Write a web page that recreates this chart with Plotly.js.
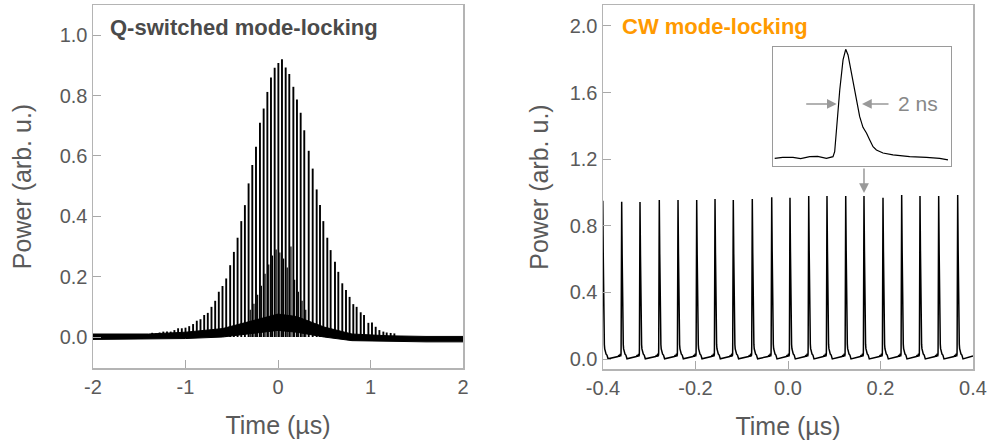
<!DOCTYPE html>
<html><head><meta charset="utf-8">
<script src="https://cdn.plot.ly/plotly-3.0.1.min.js"></script>
<style>html,body{margin:0;padding:0;background:#fff}#chart{width:990px;height:443px}</style>
</head><body><div id="chart"></div><script>
// ---- Q-switched mode-locking: individual mode-locked pulse peaks (µs, arb. u.)
const qsPulseT = [-1.36,-1.32,-1.28,-1.24,-1.20,-1.16,-1.12,-1.08,-1.04,-1.00,-0.96,-0.918,-0.878,-0.838,-0.798,-0.759,-0.719,-0.679,-0.64,-0.60,-0.56,-0.517,-0.477,-0.437,-0.397,-0.358,-0.318,-0.278,-0.238,-0.195,-0.155,-0.115,-0.076,-0.036,0.004,0.043,0.083,0.122,0.166,0.205,0.245,0.284,0.332,0.375,0.418,0.454,0.49,0.533,0.569,0.616,0.652,0.695,0.735,0.774,0.814,0.85,0.894,0.93,0.977,1.016,1.056,1.096,1.139,1.175,1.218,1.258];
const qsPulseV = [0.014,0.012,0.015,0.018,0.018,0.018,0.023,0.029,0.029,0.031,0.036,0.043,0.054,0.059,0.073,0.08,0.10,0.12,0.15,0.169,0.194,0.238,0.282,0.329,0.384,0.437,0.509,0.57,0.63,0.71,0.757,0.812,0.86,0.892,0.908,0.92,0.893,0.871,0.829,0.787,0.743,0.685,0.617,0.558,0.489,0.437,0.384,0.329,0.288,0.249,0.216,0.178,0.156,0.133,0.109,0.10,0.082,0.073,0.047,0.048,0.034,0.023,0.018,0.015,0.0135,0.012];
// weaker interleaved spikes near the envelope maximum
const qsSubT = [-0.30,-0.26,-0.22,-0.18,-0.14,-0.10,-0.06,-0.02,0.02,0.06,0.10,0.14,0.18,0.22,0.26,0.30];
const qsSubV = [0.09,0.11,0.14,0.17,0.21,0.24,0.27,0.29,0.28,0.26,0.23,0.30,0.19,0.15,0.12,0.09];
// thick noisy baseline band (lower / upper edge)
const qsBandT  = [-2.0,-1.4,-1.0,-0.6,-0.3,0.0,0.2,0.5,0.8,1.2,1.6,2.0];
const qsBandLo = [-0.008,-0.005,-0.005,0.0,0.012,0.022,0.016,0.0,-0.012,-0.015,-0.016,-0.016];
const qsBandHi = [0.010,0.010,0.016,0.028,0.052,0.076,0.068,0.033,0.010,0.004,0.002,0.002];

// ---- CW mode-locking: pulse train (µs) and peak power (arb. u.)
const cwPulseT = [-0.4005,-0.3596,-0.32,-0.2783,-0.2378,-0.1974,-0.1578,-0.1183,-0.0772,-0.0352,0.0043,0.0448,0.0843,0.1248,0.1643,0.2054,0.2458,0.2854,0.3258,0.3669];
const cwPulseV = [0.95,0.945,0.943,0.955,0.955,0.955,0.961,0.955,0.961,0.971,0.969,0.979,0.979,0.979,0.979,0.969,0.985,0.979,0.979,0.985];
const cwBase = 0.018;
// single-pulse profile (inset): time in ns, normalised power
const shapeT = [-7.98,-7.08,-5.92,-5.06,-4.04,-3.15,-2.17,-1.43,-1.24,-0.98,-0.67,-0.30,0,0.26,0.64,1.01,1.27,1.57,1.94,2.33,2.70,3.07,3.45,4.19,5.31,7.19,9.07,10.56,11.49];
const shapeV = [-0.003,0.005,0.006,-0.005,0.012,0.014,-0.003,0.012,0.058,0.322,0.626,0.902,1.0,0.948,0.782,0.656,0.534,0.38,0.282,0.23,0.166,0.104,0.074,0.046,0.028,0.012,0.006,-0.003,-0.018];

// axis tick labels
const qsXTicks = [-2,-1,0,1,2];
const qsYTicks = [0,0.2,0.4,0.6,0.8,1.0];
const cwXTicks = [-0.4,-0.2,0,0.2,0.4];
const cwYTicks = [0,0.4,0.8,1.2,1.6,2.0];

// build spike segments for the Q-switched trace
function spikes(ts, vs) {
  const x = [], y = [];
  ts.forEach((t, i) => { x.push(t, t, null); y.push(0, vs[i], null); });
  return {x, y};
}
const qsMain = spikes(qsPulseT, qsPulseV);
const qsSub = spikes(qsSubT, qsSubV);

// continuous CW trace composed of the measured pulse profile
const cwX = [], cwY = [];
cwPulseT.forEach((t0, i) => {
  const h = cwPulseV[i] - cwBase;
  shapeT.forEach((s, j) => { cwX.push(t0 + s / 1000); cwY.push(cwBase + h * shapeV[j]); });
});
cwX.push(0.4); cwY.push(cwBase);

const FONT = 'Liberation Sans, Arial, Helvetica, sans-serif';
const TXT = '#5a5a5a';
const traces = [
  {x: qsBandT, y: qsBandLo, mode: 'lines', line: {color: '#000', width: 1}, xaxis: 'x', yaxis: 'y', hoverinfo: 'skip'},
  {x: qsBandT, y: qsBandHi, mode: 'lines', fill: 'tonexty', fillcolor: '#000', line: {color: '#000', width: 1}, xaxis: 'x', yaxis: 'y', hoverinfo: 'skip'},
  {x: qsSub.x, y: qsSub.y, mode: 'lines', line: {color: '#000', width: 1.2}, connectgaps: false, xaxis: 'x', yaxis: 'y'},
  {x: qsMain.x, y: qsMain.y, mode: 'lines', line: {color: '#000', width: 1.9}, connectgaps: false, xaxis: 'x', yaxis: 'y'},
  {x: cwX, y: cwY, mode: 'lines', line: {color: '#000', width: 1.5}, xaxis: 'x2', yaxis: 'y2'},
  {x: shapeT, y: shapeV, mode: 'lines', line: {color: '#000', width: 1.2}, xaxis: 'x3', yaxis: 'y3'}
];

const axBase = {
  showline: true, mirror: true, linecolor: '#b4b4b4', linewidth: 1.5,
  ticks: 'inside', ticklen: 8, tickwidth: 1, tickcolor: '#a8a8a8',
  showgrid: false, zeroline: false,
  tickfont: {family: FONT, size: 20, color: TXT}
};
function ax(extra) { return Object.assign(JSON.parse(JSON.stringify(axBase)), extra); }
function ttl(text, standoff) { return {text: text, standoff: standoff, font: {family: FONT, size: 25, color: TXT}}; }

const layout = {
  width: 990, height: 443,
  margin: {l: 0, r: 0, t: 0, b: 0},
  paper_bgcolor: '#fff', plot_bgcolor: '#fff',
  showlegend: false,
  xaxis: ax({domain: [93/990, 463/990], range: [-2, 2], tickvals: qsXTicks, ticktext: ['-2','-1','0','1','2'], anchor: 'y',
    title: ttl('Time (µs)', 20)}),
  yaxis: ax({domain: [1 - 368/443, 1 - 5/443], range: [-0.1026, 1.1], tickvals: qsYTicks, ticktext: ['0.0','0.2','0.4','0.6','0.8','1.0'], anchor: 'x',
    title: ttl('Power (arb. u.)', 21)}),
  xaxis2: ax({domain: [603/990, 973/990], range: [-0.4, 0.4], tickvals: cwXTicks, ticktext: ['-0.4','-0.2','0.0','0.2','0.4'], anchor: 'y2',
    title: ttl('Time (µs)', 20)}),
  yaxis2: ax({domain: [1 - 369/443, 1 - 5/443], range: [-0.06, 2.126], tickvals: cwYTicks, ticktext: ['0.0','0.4','0.8','1.2','1.6','2.0'], anchor: 'x2',
    title: ttl('Power (arb. u.)', 14)}),
  xaxis3: {domain: [773/990, 951/990], range: [-8.17, 11.83], anchor: 'y3', showline: true, mirror: true, linecolor: '#9a9a9a', linewidth: 1,
    ticks: '', showticklabels: false, showgrid: false, zeroline: false},
  yaxis3: {domain: [1 - 165.7/443, 1 - 46.7/443], range: [-0.071, 1.024], anchor: 'x3', showline: true, mirror: true, linecolor: '#9a9a9a', linewidth: 1,
    ticks: '', showticklabels: false, showgrid: false, zeroline: false},
  annotations: [
    {xref: 'paper', yref: 'paper', x: 108/990, y: 1 - 28/443, xanchor: 'left', yanchor: 'middle', showarrow: false,
     text: '<b>Q-switched mode-locking</b>', font: {family: FONT, size: 22, color: '#4a4a4a'}},
    {xref: 'paper', yref: 'paper', x: 620/990, y: 1 - 27/443, xanchor: 'left', yanchor: 'middle', showarrow: false,
     text: '<b>CW mode-locking</b>', font: {family: FONT, size: 22, color: '#ff9a00'}},
    {xref: 'x3', yref: 'y3', x: -1.01, y: 0.497, ax: -32, ay: 0, showarrow: true, arrowhead: 2, arrowsize: 1.3, arrowwidth: 1.5, arrowcolor: '#999', text: ''},
    {xref: 'x3', yref: 'y3', x: 1.83, y: 0.497, ax: 28, ay: 0, showarrow: true, arrowhead: 2, arrowsize: 1.3, arrowwidth: 1.5, arrowcolor: '#999', text: ''},
    {xref: 'x3', yref: 'y3', x: 5.6, y: 0.497, xanchor: 'left', yanchor: 'middle', showarrow: false, text: '2 ns', font: {family: FONT, size: 21, color: '#888'}},
    {xref: 'x2', yref: 'y2', x: 0.1643, y: 0.997, ax: 0, ay: -26, showarrow: true, arrowhead: 2, arrowsize: 1.3, arrowwidth: 1.5, arrowcolor: '#999', text: ''}
  ]
};

Plotly.newPlot('chart', traces, layout, {staticPlot: true, displayModeBar: false});
</script></body></html>
